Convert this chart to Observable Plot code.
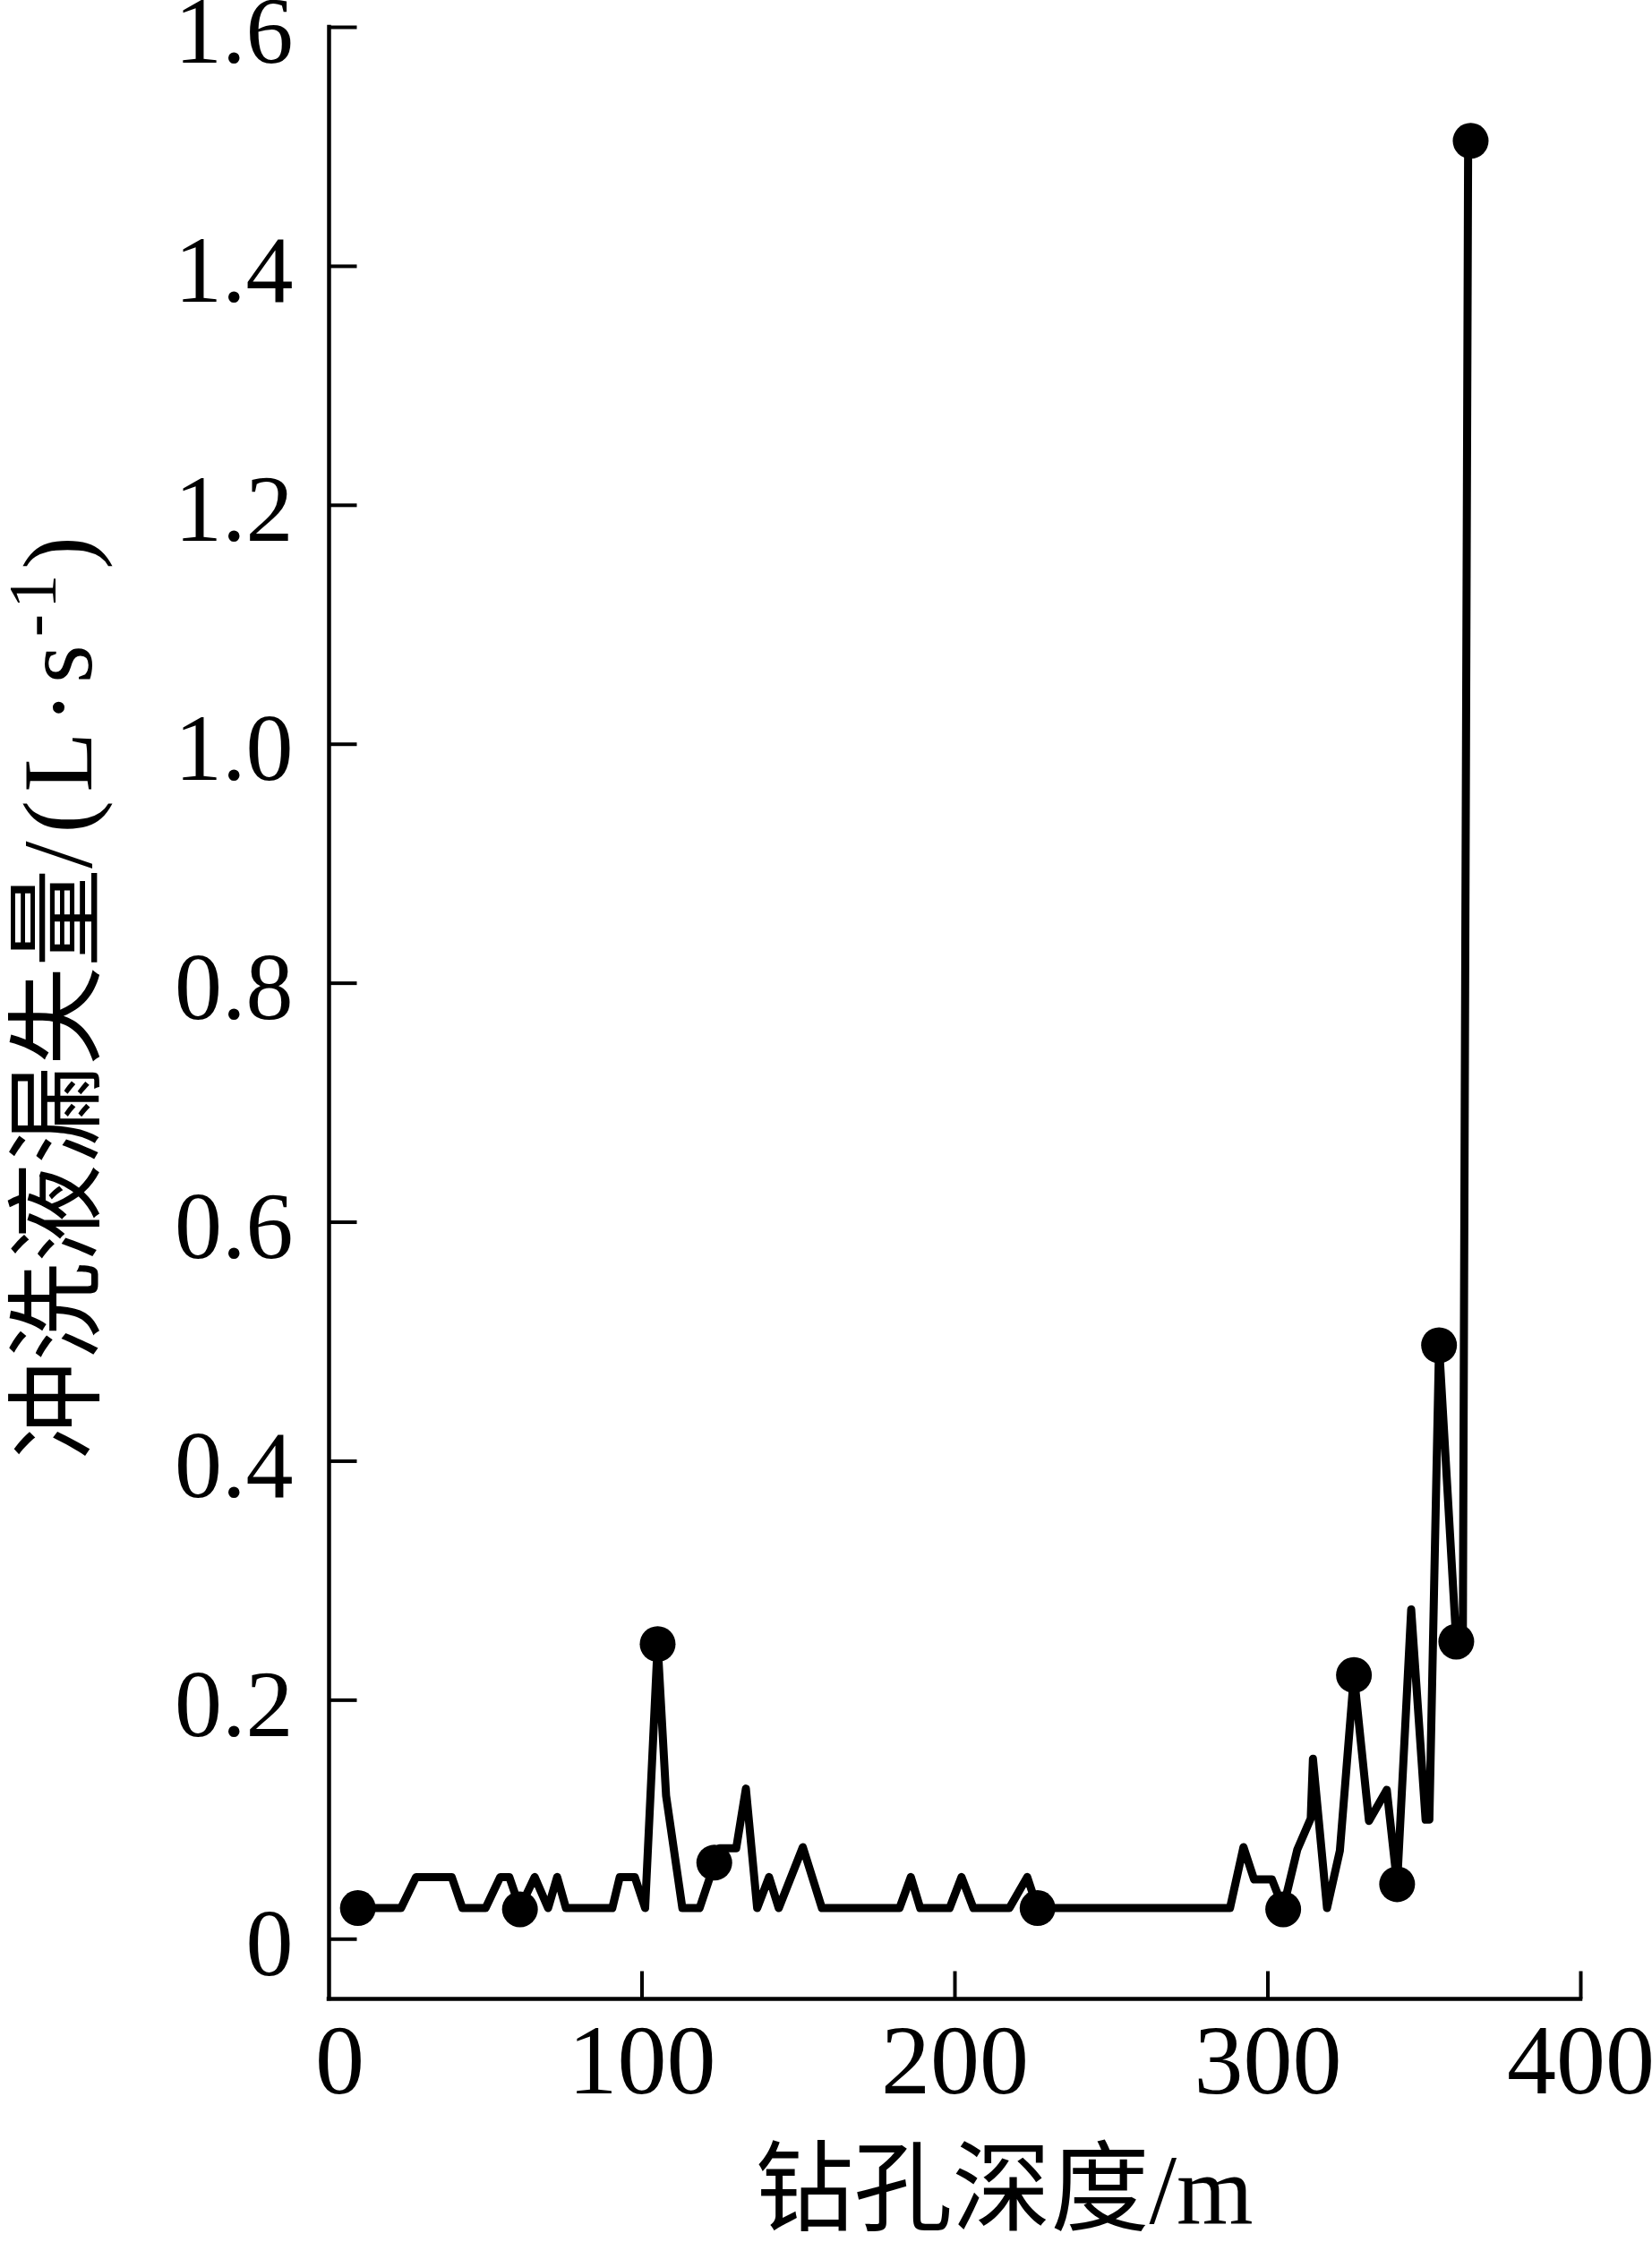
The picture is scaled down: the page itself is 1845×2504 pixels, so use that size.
<!DOCTYPE html>
<html>
<head>
<meta charset="utf-8">
<script src="https://cdn.jsdelivr.net/npm/d3@7"></script>
<script src="https://cdn.jsdelivr.net/npm/@observablehq/plot@0.6"></script>
<style>
html, body { margin: 0; padding: 0; background: #ffffff; }
#chart svg { display: block; }
</style>
</head>
<body>
<div id="chart"></div>
<script>
// Drilling depth (m) and flushing fluid loss (L/s)
const depth = [9.2, 23.0, 27.8, 39.2, 42.6, 50.0, 54.7, 57.6, 61.0, 65.7, 70.0, 72.9, 75.7, 90.5, 92.9, 97.7,
  101.0, 105.0, 107.7, 112.9, 118.4, 124.8, 130.1, 133.2, 136.8, 140.6, 143.7, 151.4, 157.5, 182.3, 185.9,
  188.9, 198.3, 202.1, 205.9, 217.4, 223.1, 226.4, 287.9, 292.2, 295.6, 301.3, 304.9, 309.4, 313.7, 314.4,
  318.9, 323.0, 327.5, 332.3, 338.0, 341.3, 345.8, 350.4, 351.6, 354.7, 360.2, 362.3, 364.0];
const loss = [0.026, 0.026, 0.052, 0.052, 0.026, 0.026, 0.052, 0.052, 0.026, 0.052, 0.026, 0.052, 0.026, 0.026, 0.052, 0.052,
  0.026, 0.247, 0.120, 0.026, 0.026, 0.076, 0.076, 0.126, 0.026, 0.052, 0.026, 0.077, 0.026, 0.026, 0.052,
  0.026, 0.026, 0.052, 0.026, 0.026, 0.052, 0.026, 0.026, 0.077, 0.050, 0.050, 0.026, 0.075, 0.101, 0.151,
  0.026, 0.074, 0.221, 0.099, 0.125, 0.046, 0.276, 0.100, 0.100, 0.497, 0.249, 0.249, 1.505];

// Highlighted points (filled circles)
const markerDepth = [9.2, 61.0, 105.0, 123.1, 226.4, 304.9, 327.5, 341.3, 354.7, 360.2, 364.8];
const markerLoss = [0.026, 0.025, 0.247, 0.064, 0.026, 0.025, 0.221, 0.046, 0.497, 0.249, 1.505];

// Axes
const xTicks = [0, 100, 200, 300, 400];
const yTicks = [0, 0.2, 0.4, 0.6, 0.8, 1.0, 1.2, 1.4, 1.6];
const xDomain = [0, 400];
const yDomain = [-0.05, 1.6];
const xLabel = "钻孔深度/m";
const yLabelMain = "冲洗液漏失量";
const yLabelUnit = "/(L·s";
const yLabelSup = "-1";
const yLabelEnd = ")";

const lineData = depth.map((d, i) => ({depth: d, loss: loss[i]}));
const markerData = markerDepth.map((d, i) => ({depth: d, loss: markerLoss[i]}));

const tickShape = {draw(context, l) { context.moveTo(0, 0); context.lineTo(0, -l); }};
const FONT = '"Liberation Serif", "Times New Roman", "Noto Sans CJK SC", serif';

const chart = Plot.plot({
  width: 1845,
  height: 2504,
  marginLeft: 367,
  marginRight: 80,
  marginTop: 30,
  marginBottom: 272,
  style: {fontFamily: FONT, background: "#ffffff", color: "#000000", overflow: "visible"},
  x: {domain: xDomain},
  y: {domain: yDomain},
  marks: [
    Plot.axisX(xTicks.slice(0, 1), {tickSize: 0, tickPadding: 27, fontSize: 110, dx: 12, label: null, tickFormat: d => String(d)}),
    Plot.axisX(xTicks.slice(1), {tickSize: 0, tickPadding: 27, fontSize: 110, label: null, tickFormat: d => String(d)}),
    Plot.axisY(yTicks, {tickSize: 0, tickPadding: 40, fontSize: 106, dy: 6, label: null,
      tickFormat: d => d === 0 ? "0" : d.toFixed(1)}),
    Plot.vector(yTicks, {x: () => xDomain[0], y: d => d, length: 31, rotate: 90, anchor: "start",
      shape: tickShape, strokeWidth: 4, strokeLinecap: "butt"}),
    Plot.vector(xTicks.slice(1), {x: d => d, y: () => yDomain[0], length: 31, rotate: 0, anchor: "start",
      shape: tickShape, strokeWidth: 4, strokeLinecap: "butt"}),
    Plot.ruleX([xDomain[0]], {strokeWidth: 4.5, strokeLinecap: "square"}),
    Plot.ruleY([yDomain[0]], {strokeWidth: 4.5, strokeLinecap: "square"}),
    Plot.line(lineData, {x: "depth", y: "loss", stroke: "#000000", strokeWidth: 9,
      strokeLinejoin: "round", strokeLinecap: "round"}),
    Plot.dot(markerData, {x: "depth", y: "loss", r: 20, fill: "#000000", stroke: null}),
    Plot.text([xLabel], {text: d => d, frameAnchor: "bottom", dx: 55, dy: 250, lineAnchor: "bottom",
      textAnchor: "middle", fontSize: 110, fill: "#000000"})
  ]
});

// Rotated y-axis title with superscript
const svg = d3.select(chart);
const yTitle = svg.append("text")
  .attr("transform", "translate(102,1630) rotate(-90)")
  .attr("text-anchor", "start")
  .attr("font-family", FONT)
  .attr("font-size", 110)
  .attr("fill", "#000000");
yTitle.append("tspan").text(yLabelMain);
yTitle.append("tspan").attr("letter-spacing", 9).text(yLabelUnit);
yTitle.append("tspan").attr("dy", -40).attr("font-size", 76).attr("letter-spacing", 6).text(yLabelSup);
yTitle.append("tspan").attr("dy", 40).text(yLabelEnd);

document.getElementById("chart").appendChild(chart);
</script>
</body>
</html>
